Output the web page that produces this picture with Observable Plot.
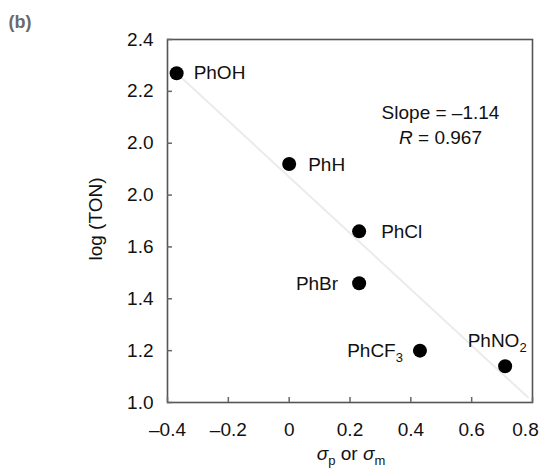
<!DOCTYPE html>
<html><head><meta charset="utf-8">
<script src="https://cdn.jsdelivr.net/npm/d3@7"></script>
<script src="https://cdn.jsdelivr.net/npm/@observablehq/plot@0.6"></script>
<style>body{margin:0;background:#fff;}</style>
</head><body><div id="chart"></div>
<script>
// ---- data ----
const compounds = ["PhOH", "PhH", "PhCl", "PhBr", "PhCF3", "PhNO2"];
const sigma = [-0.37, 0.0, 0.23, 0.23, 0.43, 0.71];
const logTON = [2.27, 1.92, 1.66, 1.46, 1.20, 1.14];
const fitX = [-0.37, 0.785];
const fitY = [2.27, 1.02];
const xTicks = [-0.4, -0.2, 0, 0.2, 0.4, 0.6, 0.8];
const xTickLabels = ["\u20130.4", "\u20130.2", "0", "0.2", "0.4", "0.6", "0.8"];
const yTicks = [1.0, 1.2, 1.4, 1.6, 1.8, 2.0, 2.2, 2.4];
const yTickLabels = ["1.0", "1.2", "1.4", "1.6", "2.0", "2.0", "2.2", "2.4"];
const annotationLines = ["Slope = \u20131.14", "R = 0.967"];
const xLabel = "\u03c3p or \u03c3m";
const yLabel = "log (TON)";
const panelLabel = "(b)";

// ---- label placement (style, not data) ----
const labelPlace = {
  PhOH: {dx: 17, dy: 0, anchor: "start"},
  PhH: {dx: 19, dy: 1, anchor: "start"},
  PhCl: {dx: 22, dy: 1, anchor: "start"},
  PhBr: {dx: -21, dy: 1, anchor: "end"},
  PhCF3: {dx: -17, dy: 0, anchor: "end"},
  PhNO2: {dx: -8, dy: -25, anchor: "middle"}
};

const pts = compounds.map((c, i) => ({name: c, x: sigma[i], y: logTON[i]}));
const fit = fitX.map((x, i) => ({x, y: fitY[i]}));
const lookup = (ticks, labels) => d => labels[ticks.findIndex(t => Math.abs(t - d) < 1e-9)];
const lastX = xTicks[xTicks.length - 1];

const font = "Liberation Sans, Arial, Helvetica, sans-serif";
const txt = "#111";
const fs = 19;

const labelMarks = ["start", "end", "middle"].flatMap(a =>
  pts.filter(p => labelPlace[p.name].anchor === a).map(p =>
    Plot.text([p], {x: "x", y: "y", text: "name", textAnchor: a,
      dx: labelPlace[p.name].dx, dy: labelPlace[p.name].dy, fill: txt, fontSize: fs})
  )
);

const chart = Plot.plot({
  width: 544, height: 470,
  marginLeft: 167, marginRight: 12, marginTop: 39, marginBottom: 68,
  style: {fontFamily: font, fontSize: fs + "px", color: txt, background: "#fff"},
  x: {domain: [-0.4, 0.8]},
  y: {domain: [1.0, 2.4]},
  marks: [
    Plot.line(fit, {x: "x", y: "y", stroke: "#ebebeb", strokeWidth: 2}),
    Plot.frame({stroke: "#555", strokeWidth: 1.6}),
    Plot.axisX({ticks: xTicks, tickFormat: d => (d === lastX ? "" : lookup(xTicks, xTickLabels)(d)), tickSize: -5, tickPadding: 25,
      stroke: "#666", strokeWidth: 1.5, fill: txt, fontSize: fs, label: null}),
    Plot.axisX({ticks: [lastX], tickFormat: lookup(xTicks, xTickLabels), tickSize: 0, tickPadding: 20, dx: -7,
      fill: txt, fontSize: fs, label: null}),
    Plot.axisY({ticks: yTicks, tickFormat: lookup(yTicks, yTickLabels), tickSize: -5, tickPadding: 19,
      stroke: "#666", strokeWidth: 1.5, fill: txt, fontSize: fs, label: null}),
    Plot.dot(pts, {x: "x", y: "y", r: 7, fill: "#000"}),
    ...labelMarks,
    Plot.text([annotationLines[0]], {frameAnchor: "top-right", dx: -92, dy: 73, textAnchor: "middle", lineAnchor: "middle", fill: txt, fontSize: fs}),
    Plot.text([annotationLines[1]], {frameAnchor: "top-right", dx: -92, dy: 98, textAnchor: "middle", lineAnchor: "middle", fill: txt, fontSize: fs}),
    Plot.text([xLabel], {frameAnchor: "bottom", dx: 1, dy: 51, textAnchor: "middle", lineAnchor: "middle", fill: txt, fontSize: fs}),
    Plot.text([yLabel], {frameAnchor: "left", dx: -72, dy: -2, rotate: -90, textAnchor: "middle", lineAnchor: "middle", fill: txt, fontSize: fs}),
    Plot.text([panelLabel], {frameAnchor: "top-left", dx: 8 - 167, dy: 22 - 39, textAnchor: "start", lineAnchor: "middle", fontWeight: "bold", fill: "#6a6a6a", fontSize: 18})
  ]
});

// rich text: italics and subscripts
const rich = {
  "PhCF3": [["PhCF"], ["3", "sub"]],
  "PhNO2": [["PhNO"], ["2", "sub"]],
  "R = 0.967": [["R", "it"], [" = 0.967"]],
  "\u03c3p or \u03c3m": [["\u03c3", "it"], ["p", "sub"], [" or "], ["\u03c3", "it"], ["m", "sub"]]
};
d3.select(chart).selectAll("text").each(function () {
  const el = d3.select(this);
  const segs = rich[this.textContent];
  if (!segs) return;
  el.text(null);
  let shifted = 0;
  for (const [t, kind] of segs) {
    const ts = el.append("tspan").text(t);
    if (kind === "sub") {
      ts.attr("font-size", "13px").attr("dy", 5 - shifted + "px");
      shifted = 5;
    } else {
      if (shifted) { ts.attr("dy", -shifted + "px"); shifted = 0; }
      if (kind === "it") ts.attr("font-style", "italic");
    }
  }
});

document.getElementById("chart").appendChild(chart);
</script>
</body></html>
